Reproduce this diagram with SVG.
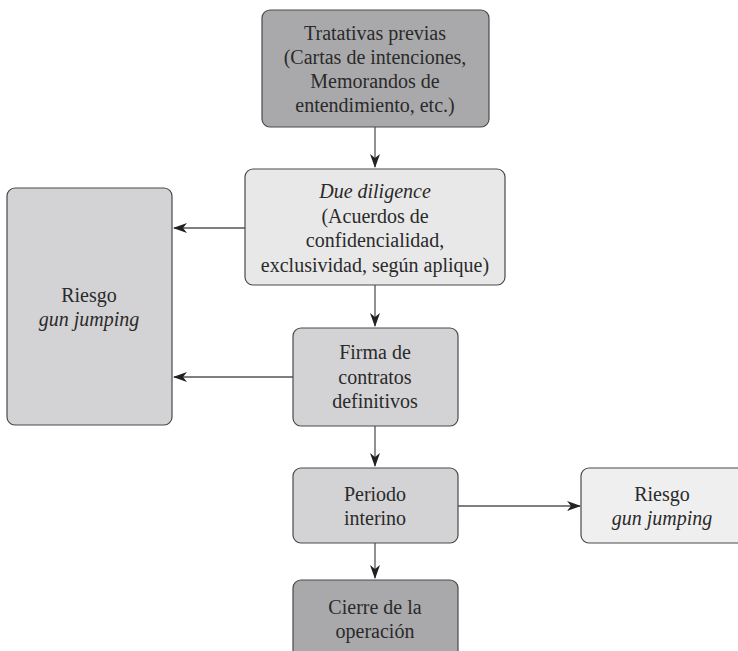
<svg xmlns="http://www.w3.org/2000/svg" width="738" height="651" viewBox="0 0 738 651">
<defs>
<style>
.box{stroke:#4a4a4a;stroke-width:1.2}
.dark{fill:#a9a9ab}
.mid{fill:#d3d3d5}
.light{fill:#e8e8e9}
.lighter{fill:#efefef}
.it{font-style:italic}
.con{stroke:#555;stroke-width:1.3;fill:none}
</style>
<marker id="ah" markerWidth="14" markerHeight="10" refX="13" refY="5" orient="auto" markerUnits="userSpaceOnUse">
<path d="M0,0 L14,5 L0,10 L4,5 Z" fill="#222"/>
</marker>
</defs>
<g id="connectors">
<line class="con" x1="375" y1="127" x2="375" y2="167" marker-end="url(#ah)"/>
<line class="con" x1="245" y1="228" x2="174" y2="228" marker-end="url(#ah)"/>
<line class="con" x1="375" y1="285" x2="375" y2="326" marker-end="url(#ah)"/>
<line class="con" x1="293" y1="377" x2="174" y2="377" marker-end="url(#ah)"/>
<line class="con" x1="375" y1="426" x2="375" y2="466" marker-end="url(#ah)"/>
<line class="con" x1="458" y1="506" x2="580" y2="506" marker-end="url(#ah)"/>
<line class="con" x1="375" y1="543" x2="375" y2="578" marker-end="url(#ah)"/>
</g>
<g font-family="Liberation Serif" font-size="20" fill="#2a2a2a" text-anchor="middle">
<g id="n1">
<rect class="box dark" x="262" y="10" width="227" height="117" rx="8"/>
<text x="375" y="40">Tratativas previas</text>
<text x="375" y="64">(Cartas de intenciones,</text>
<text x="375" y="88">Memorandos de</text>
<text x="375" y="112">entendimiento, etc.)</text>
</g>
<g id="n2">
<rect class="box light" x="245" y="169" width="260" height="116" rx="8"/>
<text x="375" y="198" class="it">Due diligence</text>
<text x="375" y="223">(Acuerdos de</text>
<text x="375" y="247">confidencialidad,</text>
<text x="375" y="272">exclusividad, según aplique)</text>
</g>
<g id="n3">
<rect class="box mid" x="7" y="188" width="165" height="237" rx="8"/>
<text x="89" y="302">Riesgo</text>
<text x="89" y="326" class="it">gun jumping</text>
</g>
<g id="n4">
<rect class="box mid" x="293" y="328" width="165" height="98" rx="8"/>
<text x="375" y="359">Firma de</text>
<text x="375" y="384">contratos</text>
<text x="375" y="408">definitivos</text>
</g>
<g id="n5">
<rect class="box mid" x="293" y="468" width="165" height="75" rx="8"/>
<text x="375" y="501">Periodo</text>
<text x="375" y="525">interino</text>
</g>
<g id="n6">
<rect class="box lighter" x="581" y="468" width="165" height="75" rx="8"/>
<text x="662" y="501">Riesgo</text>
<text x="662" y="525" class="it">gun jumping</text>
</g>
<g id="n7">
<rect class="box dark" x="293" y="580" width="165" height="80" rx="8"/>
<text x="375" y="614">Cierre de la</text>
<text x="375" y="638">operación</text>
</g>
</g>
</svg>
